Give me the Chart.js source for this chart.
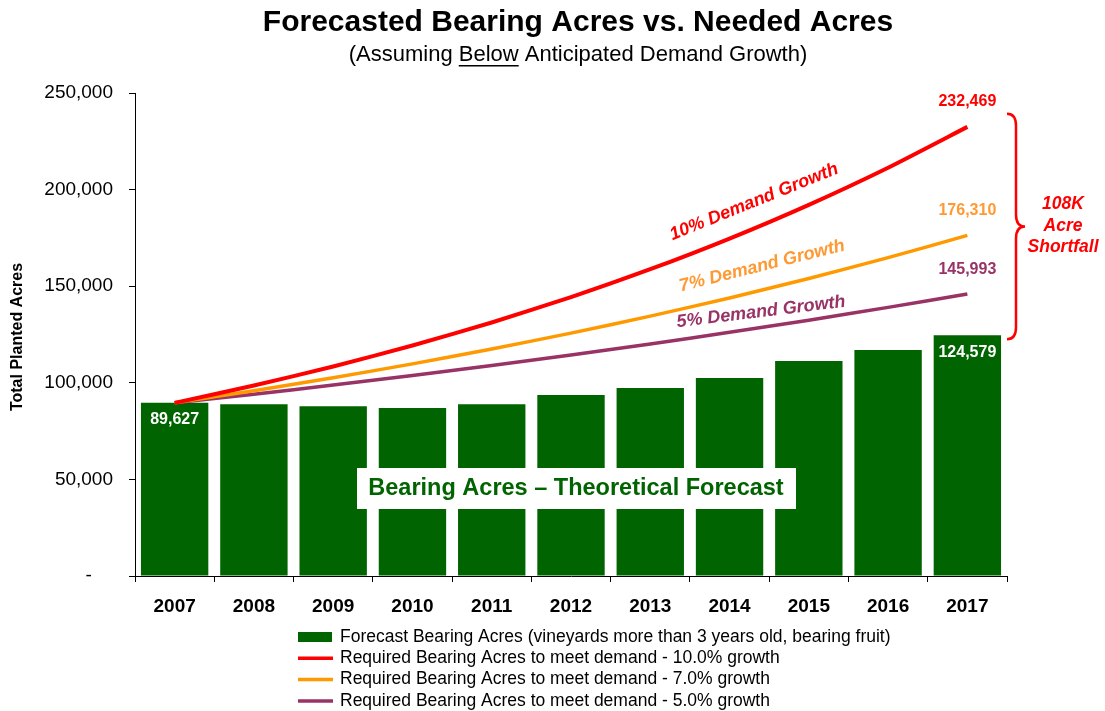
<!DOCTYPE html>
<html>
<head>
<meta charset="utf-8">
<script src="https://cdn.jsdelivr.net/npm/chart.js@4"></script>
<style>
  html, body { margin: 0; padding: 0; background: #fff; }
  #wrap { width: 1105px; height: 711px; }
</style>
</head>
<body>
<div id="wrap"><canvas id="chart" width="1105" height="711"></canvas></div>
<script>
const YEARS = ["2007", "2008", "2009", "2010", "2011", "2012", "2013", "2014", "2015", "2016", "2017"];
const BEARING = [89627, 88900, 87900, 87000, 88900, 93700, 97300, 102500, 111300, 117000, 124579];
const NEED_10 = [89627, 98590, 108449, 119294, 131223, 144345, 158780, 174658, 192124, 211336, 232469];
const NEED_7 = [89627, 95901, 102614, 109797, 117483, 125707, 134506, 143921, 153996, 164776, 176310];
const NEED_5 = [89627, 94108, 98814, 103755, 108942, 114390, 120109, 126115, 132420, 139041, 145993];
const Y_TICKS = [0, 50000, 100000, 150000, 200000, 250000];

const LEGEND_ITEMS = [
  { type: "box", color: "#006400", text: "Forecast Bearing Acres (vineyards more than 3 years old, bearing fruit)" },
  { type: "line", color: "#FF0000", text: "Required Bearing Acres to meet demand - 10.0% growth" },
  { type: "line", color: "#FF9900", text: "Required Bearing Acres to meet demand - 7.0% growth" },
  { type: "line", color: "#993366", text: "Required Bearing Acres to meet demand - 5.0% growth" },
];

const FONT = "'Liberation Sans', Arial, sans-serif";
const fmt = (v) => v.toLocaleString("en-US");

// titles, notes, brace and legend drawn on top of the chart
const decorations = {
  id: "decorations",
  afterDatasetsDraw(chart) {
    const { ctx, scales: { x, y } } = chart;
    const last = YEARS.length - 1;
    const xl = x.getPixelForValue(last);
    ctx.save();

    // bar labels
    ctx.textAlign = "center";
    ctx.textBaseline = "middle";
    ctx.fillStyle = "#fff";
    ctx.font = `bold 16px ${FONT}`;
    ctx.fillText(fmt(BEARING[0]), x.getPixelForValue(0), y.getPixelForValue(BEARING[0]) + 17);
    ctx.fillText(fmt(BEARING[last]), xl, y.getPixelForValue(BEARING[last]) + 17);

    // line end values
    ctx.fillStyle = "#FF0000";
    ctx.fillText(fmt(NEED_10[last]), xl, y.getPixelForValue(NEED_10[last]) - 25);
    ctx.fillStyle = "#FF9933";
    ctx.fillText(fmt(NEED_7[last]), xl, y.getPixelForValue(NEED_7[last]) - 25);
    ctx.fillStyle = "#993366";
    ctx.fillText(fmt(NEED_5[last]), xl, y.getPixelForValue(NEED_5[last]) - 24);

    // rotated series notes
    const note = (text, color, cx, cy, deg) => {
      ctx.save();
      ctx.translate(cx, cy);
      ctx.rotate(-deg * Math.PI / 180);
      ctx.fillStyle = color;
      ctx.font = `italic bold 18px ${FONT}`;
      ctx.fillText(text, 0, 0);
      ctx.restore();
    };
    note("10% Demand Growth", "#FF0000", 754, 202, 22);
    note("7% Demand Growth", "#FF9933", 762, 266, 14);
    note("5% Demand Growth", "#993366", 761, 312, 7);

    // boxed forecast label
    ctx.fillStyle = "#fff";
    ctx.fillRect(357, 468, 439, 41);
    ctx.fillStyle = "#006400";
    ctx.font = `bold 23.5px ${FONT}`;
    ctx.fillText("Bearing Acres \u2013 Theoretical Forecast", 576, 489);

    // brace
    const top = y.getPixelForValue(NEED_10[last]) - 13;
    const bot = y.getPixelForValue(BEARING[last]) + 4;
    const mid = (top + bot) / 2;
    const bx = 1016;
    ctx.strokeStyle = "#FF0000";
    ctx.lineWidth = 2.5;
    ctx.beginPath();
    ctx.moveTo(bx - 9, top);
    ctx.quadraticCurveTo(bx, top, bx, top + 12);
    ctx.lineTo(bx, mid - 12);
    ctx.quadraticCurveTo(bx, mid, bx + 9, mid);
    ctx.quadraticCurveTo(bx, mid, bx, mid + 12);
    ctx.lineTo(bx, bot - 12);
    ctx.quadraticCurveTo(bx, bot, bx - 9, bot);
    ctx.stroke();

    ctx.fillStyle = "#FF0000";
    ctx.font = `italic bold 17.5px ${FONT}`;
    ctx.fillText("108K", 1063, 204);
    ctx.fillText("Acre", 1063, 226);
    ctx.fillText("Shortfall", 1063, 247);

    // titles
    ctx.fillStyle = "#000";
    ctx.font = `bold 30px ${FONT}`;
    ctx.fillText("Forecasted Bearing Acres vs. Needed Acres", 578, 23);

    ctx.font = `22px ${FONT}`;
    const parts = ["(Assuming ", "Below", " Anticipated Demand Growth)"];
    const widths = parts.map((p) => ctx.measureText(p).width);
    let sx = 578 - widths.reduce((a, b) => a + b, 0) / 2;
    ctx.textAlign = "left";
    parts.forEach((p, i) => {
      ctx.fillText(p, sx, 55);
      if (i === 1) ctx.fillRect(sx, 65, widths[i], 1.5);
      sx += widths[i];
    });

    // y axis title
    ctx.save();
    ctx.translate(18, 337);
    ctx.rotate(-Math.PI / 2);
    ctx.textAlign = "center";
    ctx.font = `bold 16px ${FONT}`;
    ctx.fillText("Total Planted Acres", 0, 0);
    ctx.restore();

    // legend
    ctx.font = `17.5px ${FONT}`;
    ctx.textAlign = "left";
    LEGEND_ITEMS.forEach((item, i) => {
      const ly = 637 + i * 21.3;
      if (item.type === "box") {
        ctx.fillStyle = item.color;
        ctx.fillRect(298, ly - 5, 34, 10);
      } else {
        ctx.strokeStyle = item.color;
        ctx.lineWidth = 3.5;
        ctx.beginPath();
        ctx.moveTo(298, ly);
        ctx.lineTo(333, ly);
        ctx.stroke();
      }
      ctx.fillStyle = "#000";
      ctx.fillText(item.text, 340, ly);
    });

    ctx.restore();
  },
};

const lineDs = (label, data, color, width) => ({
  type: "line",
  label,
  data,
  borderColor: color,
  backgroundColor: color,
  borderWidth: width,
  pointRadius: 0,
  tension: 0.2,
  order: 0,
});

new Chart(document.getElementById("chart"), {
  type: "bar",
  data: {
    labels: YEARS,
    datasets: [
      lineDs("10%", NEED_10, "#FF0000", 4),
      lineDs("7%", NEED_7, "#FF9900", 3.5),
      lineDs("5%", NEED_5, "#993366", 3.5),
      {
        label: "Forecast Bearing Acres",
        data: BEARING,
        backgroundColor: "#006400",
        barPercentage: 0.85,
        categoryPercentage: 1,
        order: 1,
      },
    ],
  },
  options: {
    responsive: false,
    animation: false,
    layout: { padding: { top: 93, right: 98, left: 0, bottom: 0 } },
    plugins: {
      legend: { display: false },
      title: { display: false },
      tooltip: { enabled: false },
    },
    scales: {
      x: {
        offset: true,
        grid: { display: true, offset: true, drawOnChartArea: false, tickLength: 6, color: "#000" },
        border: { color: "#000", width: 1 },
        ticks: { color: "#000", font: { family: FONT, size: 19, weight: "bold" }, padding: 13 },
        afterFit: (s) => { s.height = 135; },
      },
      y: {
        min: 0,
        max: 250000,
        afterBuildTicks: (s) => { s.ticks = Y_TICKS.map((v) => ({ value: v })); },
        grid: { display: true, drawOnChartArea: false, tickLength: 6, color: "#000" },
        border: { color: "#000", width: 1 },
        ticks: {
          color: "#000",
          font: { family: FONT, size: 19 },
          padding: 16,
          callback: (v) => (v === 0 ? "-    " : fmt(v)),
        },
        afterFit: (s) => { s.width = 135; },
      },
    },
  },
  plugins: [decorations],
});
</script>
</body>
</html>
